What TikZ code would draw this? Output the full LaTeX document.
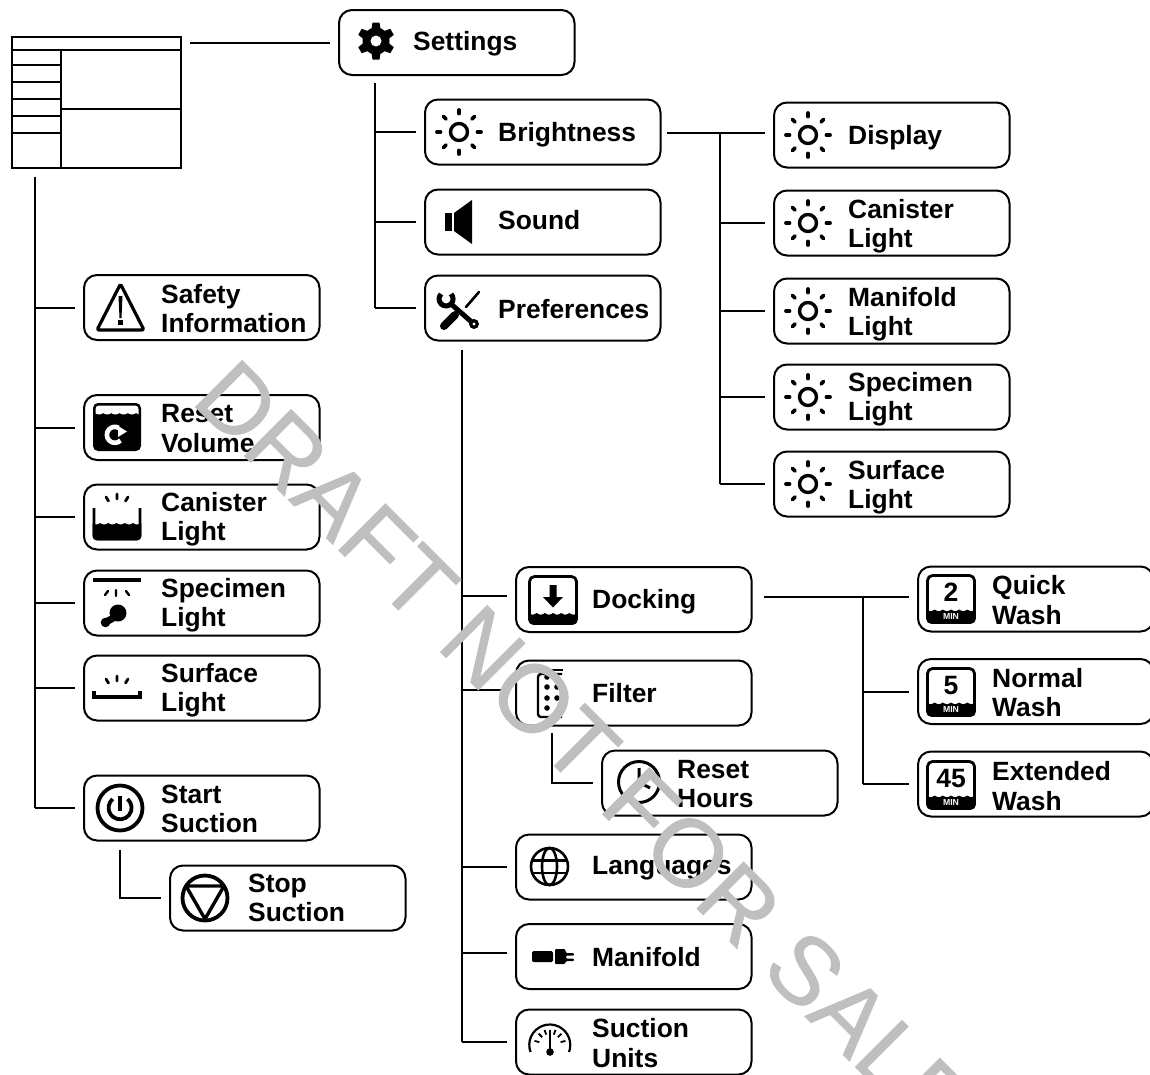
\documentclass[tikz,border=0pt]{standalone}
\usepackage{amsmath}
\usepackage{fontspec}
\setmainfont{Liberation Sans}
\newfontfamily\markfont[FakeBold=0.6]{Liberation Sans}
\tikzset{
  btn/.style={draw,line width=2,rounded corners=13,minimum width=235.5,minimum height=65,inner sep=0,anchor=west},
  btntext/.style={anchor=west,inner sep=0,align=left,font=\fontsize{26.4}{29.5}\selectfont\bfseries},
  link/.style={line width=2,shorten >=8},
  iconline/.style={line width=2.8,line join=round},
  ray/.style={line width=2.8,line cap=round},
  sunicon/.pic={
    \draw[line width=3.4] (0,0) circle (8.5);
    \foreach \a in {0,45,...,315} \draw[line width=3.8,line cap=round] (\a:18.5) -- (\a:22);
  },
  washbox/.pic={
    \draw[iconline,rounded corners=5] (-23.5,-23.5) rectangle (23.5,23.5);
    \begin{scope}
      \clip[rounded corners=5] (-24.8,-24.8) rectangle (24.8,24.8);
      \fill plot[domain=-25:25,samples=80] (\x,{10.5+1.6*abs(sin(\x*22))}) -- (25,25) -- (-25,25) -- cycle;
    \end{scope}
    \node[inner sep=0,font=\fontsize{26.5}{26.5}\selectfont\bfseries] (digit) at (0,-6.5) {#1};
    \node[inner sep=0,white,font=\fontsize{8.7}{8.7}\selectfont\bfseries] (min) at (0,17) {MIN};
  },
}
\begin{document}
\begin{tikzpicture}[x=1pt,y=-1pt]
\useasboundingbox (0,0) rectangle (1150,1074);
\fill[white] (0,0) rectangle (1150,1074);
% menu grid
\node[draw,line width=2,minimum width=169,minimum height=131,inner sep=0] (menu) at (96,102.5) {};
\draw[line width=2] (11,49.5) -- (180.5,49.5) (61,49.5) -- (61,168) (61,109) -- (180.5,109);
\foreach \ly in {65,82,99,116,133} \draw[line width=2] (11,\ly) -- (61,\ly);
% buttons
\foreach \n/\bx/\by/\tx/\ty/\t in {
  settings/338/42.5/75/1/Settings,
  brightness/424/132/74/3/Brightness,
  sound/424/222/74/-2/Sound,
  preferences/424/308/74/1/Preferences,
  display/773/135/75/3/Display,
  canisterB/773/223/75/3/{Canister\\Light},
  manifoldB/773/311/75/3/{Manifold\\Light},
  specimenB/773/397/75/2/{Specimen\\Light},
  surfaceB/773/484/75/3/{Surface\\Light},
  safety/83/307.5/78/1/{Safety\\Information},
  volume/83/427.5/78/1/{Reset\\Volume},
  canister/83/517/78/2/{Canister\\Light},
  specimen/83/603/78/2/{Specimen\\Light},
  surface/83/688/78/2/{Surface\\Light},
  start/83/808/78/1/{Start\\Suction},
  stop/169/898/79/0/{Stop\\Suction},
  docking/515/599.5/77/2/Docking,
  filter/515/693/77/0/Filter,
  hours/601/783/76/1/{Reset\\Hours},
  languages/515/867/77/1/Languages,
  manifold/515/956.5/77/1/Manifold,
  units/515/1042/77/1/{Suction\\Units},
  quick/917/599/75/1/{Quick\\Wash},
  normal/917/691.5/75/1/{Normal\\Wash},
  extended/917/784/75/2/{Extended\\Wash}}
{
  \node[btn] (\n) at (\bx,\by) {};
  \node[btntext] (\n-text) at (\bx+\tx,\by+\ty) {\t};
}
% connectors
\coordinate (menuout) at (190,43);
\coordinate (menubus) at (35,177);
\coordinate (settingsbus) at (375,83);
\coordinate (stopbus) at (120,850);
\coordinate (filterbus) at (552,733);
\coordinate (prefbus) at (462,350);
\coordinate (brightout) at (667,133);
\coordinate (brightbus) at (720,133);
\coordinate (dockout) at (764,597);
\coordinate (dockbus) at (863,597);
\draw[link] (menuout) -- (menuout -| settings.west);
\draw[line width=2] (menubus) -- (menubus |- start.west);
\foreach \n in {safety,volume,canister,specimen,surface,start}
  \draw[link] (menubus |- \n.west) -- (\n.west);
\draw[line width=2] (settingsbus) -- (settingsbus |- preferences.west);
\foreach \n in {brightness,sound,preferences}
  \draw[link] (settingsbus |- \n.west) -- (\n.west);
\draw[link] (stopbus) |- (stop.west);
\draw[link] (filterbus) |- (hours.west);
\draw[line width=2] (prefbus) -- (prefbus |- units.west);
\foreach \n/\dy in {docking/-4,filter/-3,languages/0,manifold/-4,units/0}
  \draw[link] ([yshift=-\dy]prefbus |- \n.west) -- ([yshift=-\dy]\n.west);
\draw[link] (brightout) -- (brightout -| display.west);
\draw[line width=2] (brightbus) -- (brightbus |- surfaceB.west);
\foreach \n in {canisterB,manifoldB,specimenB,surfaceB}
  \draw[link] (brightbus |- \n.west) -- (\n.west);
\draw[link] (dockout) -- (dockout -| quick.west);
\draw[line width=2] (dockbus) -- (dockbus |- extended.west);
\foreach \n in {normal,extended}
  \draw[link] (dockbus |- \n.west) -- (\n.west);
% sun icons
\foreach \sx/\sy in {459/132,808/135,808/223,808/311,808/397,808/484}
  \pic at (\sx,\sy) {sunicon};
% gear
\begin{scope}[shift={(376,41)}]
  \foreach \a in {30,90,150,210,270,330}
    \fill[rotate=\a] (12,-4.5) -- (18.5,-3.5) -- (18.5,3.5) -- (12,4.5) -- cycle;
  \fill (0,0) circle (13.5);
  \fill[white] (0,0) circle (5.5);
\end{scope}
% speaker
\fill (445,213) rectangle (452,231);
\fill (454,213) -- (472,200) -- (472,244) -- (454,231) -- cycle;
% tools
\begin{scope}[shift={(460,310)}]
  \draw[line width=5] (-9,-6) -- (14,14);
  \fill (14,14) circle (5);
  \fill[white] (14,14) circle (1.7);
  \draw[line width=5] (-9,-16) arc[start angle=-45,end angle=225,radius=7];
  \draw[line width=2.6,line cap=round] (19,-18) -- (6,-3);
  \draw[line width=8,line cap=round] (-5,5) -- (-16,16);
\end{scope}
% warning triangle
\draw[line width=3.2,line join=round,rounded corners=2] (120.5,284) -- (144,330) -- (97,330) -- cycle;
\fill (118.5,296) -- (122.5,296) -- (121.5,318) -- (119.5,318) -- cycle;
\fill (118,320) rectangle (123,325);
% reset volume
\fill[rounded corners=5] (93,403) rectangle (141,451);
\begin{scope}
  \clip[rounded corners=3.5] (95.5,405.5) rectangle (138.5,449);
  \fill[white] plot[domain=95:139,samples=60] (\x,{413+1.5*abs(sin((\x-95)*22))}) -- (139,404) -- (95,404) -- cycle;
\end{scope}
\draw[white,line width=4.6] (120.5,440.5) arc[start angle=45,end angle=300,radius=8];
\fill[white] (118,426) -- (127,431.5) -- (118,437) -- cycle;
% canister light
\draw[ray] (106,497) -- (108.5,501) (117,494) -- (117,499) (128,497) -- (125.5,501);
\draw[iconline,rounded corners=4] (94,508) -- (94,539) -- (140,539) -- (140,508);
\begin{scope}
  \clip[rounded corners=4] (92.6,505) rectangle (141.4,540.4);
  \fill plot[domain=92:142,samples=70] (\x,{523+1.5*abs(sin((\x-92)*22))}) -- (142,541) -- (92,541) -- cycle;
\end{scope}
% specimen light
\fill (93,578) rectangle (141,582);
\draw[ray,line width=2.4] (105,595) -- (108,591) (116,590) -- (116,596) (129,595) -- (126,591);
\fill (118,613) circle (8.5);
\draw[line width=7,line cap=round] (115,617) -- (106,622);
\fill (105.5,622.5) circle (4.8);
% surface light
\draw[ray] (106,679) -- (108.5,683) (117,676) -- (117,681) (128,679) -- (125.5,683);
\draw[line width=3.4] (94,691) -- (94,697) -- (140,697) -- (140,691);
% power
\draw[line width=3.8] (120,808) circle (22.5);
\draw[line width=3.8] (127.5,799) arc[start angle=-50,end angle=230,radius=11.5];
\draw[line width=3.8] (120,796) -- (120,811);
% stop
\draw[line width=3.8] (205,898) circle (22.5);
\draw[line width=3.4,line join=round] (186,886) -- (224,886) -- (205,919) -- cycle;
% docking
\begin{scope}[shift={(553,600)}]
  \draw[iconline,rounded corners=5] (-23.5,-23.5) rectangle (23.5,23.5);
  \begin{scope}
    \clip[rounded corners=5] (-24.8,-24.8) rectangle (24.8,24.8);
    \fill plot[domain=-25:25,samples=80] (\x,{13+1.6*abs(sin(\x*22))}) -- (25,25) -- (-25,25) -- cycle;
  \end{scope}
  \fill (-3.5,-15) -- (3.5,-15) -- (3.5,-3) -- (10,-3) -- (0,7.5) -- (-10,-3) -- (-3.5,-3) -- cycle;
\end{scope}
% filter
\begin{scope}[shift={(551,693)}]
  \draw[line width=2.4] (-8,-23) -- (12,-23);
  \draw[line width=2.4,rounded corners=3] (11,-19) -- (-13,-19) -- (-13,24) -- (11,24);
  \foreach \dy in {-16,-6,5,15} \fill (-4,\dy) circle (2.8);
  \foreach \dy in {-6,5} \fill (6,\dy) circle (2.8);
\end{scope}
% clock
\draw[line width=3] (639,782) circle (20.5);
\draw[line width=3] (639,768) -- (639,782) -- (650,788);
% globe
\begin{scope}[shift={(549.5,866.5)},line width=2.6]
  \draw (0,0) circle (18.5);
  \draw (0,0) ellipse (7.5 and 18.5);
  \draw (-17,-6) -- (17,-6) (-17,6.5) -- (17,6.5);
\end{scope}
% manifold
\fill[rounded corners=1.5] (532,951) rectangle (553,962);
\fill[rounded corners=1] (555,949) -- (565,949) -- (566,953) -- (574,953) -- (574,955.5) -- (566,955.5) -- (566,958.5) -- (574,958.5) -- (574,961) -- (566,961) -- (565,964) -- (555,964) -- cycle;
% gauge
\begin{scope}[shift={(550,1045)}]
  \draw[line width=2.2] (-19.5,7) arc[start angle=160,end angle=380,radius=20.5];
  \foreach \a in {195,225,250,290,315,345} \draw[line width=1.8] (\a:11) -- (\a:16);
  \draw[line width=2.2] (0,-15) -- (0,7);
  \fill (0,7) circle (3.8);
\end{scope}
% wash timers
\pic (quickicon) at (951,599) {washbox=2};
\pic (normalicon) at (951,692) {washbox=5};
\pic (extendedicon) at (951,785) {washbox=45};
% watermark
\node[anchor=west,inner sep=0,rotate=-45,text=black!25,font=\fontsize{96}{96}\markfont] (draftmark) at (213,378) {DRAFT NOT FOR SALE};
\end{tikzpicture}
\end{document}
